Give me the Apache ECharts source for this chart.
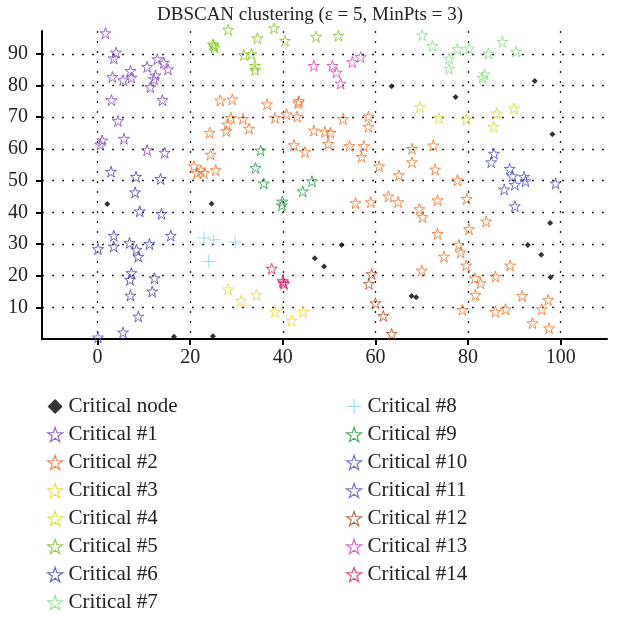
<!DOCTYPE html>
<html>
<head>
<meta charset="utf-8">
<script src="https://cdn.jsdelivr.net/npm/echarts@6/dist/echarts.min.js"></script>
<style>
  html, body { margin: 0; padding: 0; background: #fff; }
  #chart { width: 620px; height: 618px; }
</style>
</head>
<body>
<div id="chart"></div>
<script>
// point sets, [x, y]
const critNode = [[2.1,42.6],[16.5,0.7],[24.6,42.7],[24.9,0.9],[46.9,25.5],[48.9,22.9],[52.7,29.7],[63.5,79.8],[67.8,13.6],[68.8,13.2],[77.3,76.4],[94.4,81.4],[98.2,64.6],[97.7,36.6],[92.9,29.7],[95.8,26.6],[97.8,19.5]];
const c1 = [[1.7,96.5],[4.0,90.4],[3.5,88.6],[3.2,82.7],[5.5,81.7],[7.1,84.6],[7.3,82.5],[10.7,85.9],[12.9,88.3],[14.3,87.2],[15.2,85.1],[12.5,83.2],[12.2,82.0],[11.4,79.5],[3.0,75.4],[14.0,75.4],[4.4,68.8],[1.0,62.7],[0.6,61.4],[5.7,63.2],[10.7,59.6],[14.5,58.8]];
const c2 = [[26.5,75.3],[29.1,75.6],[36.6,74.1],[43.5,75.1],[43.3,74.4],[28.8,69.8],[31.4,69.5],[28.0,67.7],[27.8,65.6],[24.2,65.1],[32.7,66.4],[38.3,69.8],[40.8,70.9],[43.1,70.2],[46.7,65.8],[49.1,65.4],[50.3,65.1],[53.0,69.5],[58.5,70.2],[58.5,67.0],[42.4,61.2],[44.8,59.0],[49.8,61.6],[54.4,60.9],[57.5,60.9],[57.0,57.5],[60.8,54.5],[65.1,51.7],[24.4,58.2],[20.8,54.5],[21.5,52.4],[22.3,53.2],[23.0,52.4],[25.5,53.3],[55.7,42.9],[59.0,43.2],[62.8,45.0],[64.9,43.2],[67.9,60.0],[72.5,61.1],[67.9,55.8],[72.9,53.5],[77.7,50.1],[73.4,43.8],[79.7,44.2],[69.5,41.0],[70.2,38.5],[83.9,37.1],[73.4,33.2],[80.2,34.7],[78.0,29.7],[78.4,27.3],[74.8,26.0],[79.6,23.2],[70.0,21.6],[89.1,23.2],[81.5,19.2],[82.7,17.6],[85.9,19.7],[81.6,13.9],[91.7,13.6],[78.8,9.2],[85.9,8.6],[88.1,9.4],[95.9,9.4],[97.3,12.3],[93.9,5.0],[97.5,3.4]];
const c3 = [[28.2,15.7],[31.0,12.1],[34.3,13.9],[38.3,8.6],[41.9,5.8],[44.4,8.6]];
const c4 = [[69.6,73.3],[73.7,69.7],[79.6,69.3],[86.2,71.2],[89.9,72.8],[85.5,67.0]];
const c5 = [[28.2,97.6],[25.1,92.6],[25.3,92.0],[24.9,93.0],[38.1,98.1],[34.5,94.9],[40.5,94.1],[31.6,89.6],[33.2,89.9],[34.0,86.2],[34.0,84.9],[47.2,95.4],[52.0,95.7]];
const c6 = [[2.9,52.8],[8.3,51.2],[13.6,50.5],[8.1,46.3],[9.1,40.3],[13.8,39.5],[3.5,32.6],[3.5,29.2],[0.1,28.4],[6.9,30.3],[8.4,28.2],[8.8,26.0],[11.2,30.0],[15.8,32.6],[7.3,20.8],[7.0,18.7],[12.3,19.2],[7.1,13.7],[11.8,15.0]];
const c7 = [[70.1,95.9],[72.3,92.5],[77.7,91.5],[80.2,91.7],[75.9,88.5],[75.9,85.3],[84.4,90.1],[87.4,93.8],[90.4,90.7],[83.6,83.5],[83.1,82.5]];
const c8 = [[23.0,31.9],[25.1,31.3],[29.7,30.6],[24.0,24.5]];
const c9 = [[35.2,59.5],[34.1,54.0],[35.9,49.1],[44.3,46.6],[46.3,49.8],[39.9,43.4],[39.8,42.2]];
const c10 = [[85.6,58.5],[85.0,55.8],[89.0,53.7],[89.6,51.4],[92.1,51.2],[92.4,49.8],[90.1,48.7],[87.8,47.2],[98.9,49.1],[90.1,41.9]];
const c11 = [[8.8,7.1],[5.5,2.1],[0.1,0.5]];
const c12 = [[59.2,20.5],[58.6,17.4],[60.0,11.3],[61.7,7.3],[63.5,1.6]];
const c13 = [[46.7,86.2],[50.7,86.2],[51.6,84.1],[52.5,80.6],[55.0,87.4],[56.8,89.0]];
const c14 = [[37.6,22.2],[40.0,18.3],[40.3,17.4],[40.1,17.8]];

const xTicks = [0, 20, 40, 60, 80, 100];
const yTicks = [10, 20, 30, 40, 50, 60, 70, 80, 90];

const clusterNames = ['Critical #1','Critical #2','Critical #3','Critical #4','Critical #5','Critical #6','Critical #7','Critical #8','Critical #9','Critical #10','Critical #11','Critical #12','Critical #13','Critical #14'];
const clusterData = [c1, c2, c3, c4, c5, c6, c7, c8, c9, c10, c11, c12, c13, c14];
const clusterColors = ['#7d3fc0','#f26b1d','#f5d21a','#d2dc16','#7fc31c','#3f3fae','#7ddf7d','#7fd3e8','#1c9a3e','#4c4cc4','#6447c0','#b4441c','#d23fb4','#e0186c'];

const STAR = 'path://M50,2 L61,36 L97,36 L68,57 L79,92 L50,70 L21,92 L32,57 L3,36 L39,36 Z';
const PLUS = 'path://M50,0 L50,100 M0,50 L100,50';
const FONT = 'Liberation Serif';

const chart = echarts.init(document.getElementById('chart'));

const series = [{
    name: 'Critical node',
    type: 'scatter',
    data: critNode,
    symbol: 'diamond',
    symbolSize: 6,
    clip: false,
    itemStyle: { color: '#000' },
    z: 5
}];
clusterNames.forEach((name, i) => {
    const isPlus = name === 'Critical #8';
    series.push({
        name: name,
        type: 'scatter',
        data: clusterData[i],
        symbol: isPlus ? PLUS : STAR,
        symbolSize: isPlus ? 13 : 11,
        clip: false,
        itemStyle: {
            color: 'rgba(255,255,255,0)',
            borderColor: clusterColors[i],
            borderWidth: 1
        }
    });
});

const legendText = { fontFamily: FONT, fontSize: 21, color: '#222', lineHeight: 20, padding: [0, 0, 0, 1] };
const legendItem = (name, i) => {
    if (name === 'Critical node') {
        return { name: name, icon: 'diamond', itemStyle: { color: '#000', borderWidth: 0 } };
    }
    return {
        name: name,
        icon: name === 'Critical #8' ? PLUS : STAR,
        itemStyle: { color: 'rgba(255,255,255,0)', borderColor: clusterColors[i], borderWidth: 1.2 }
    };
};
const allNames = ['Critical node'].concat(clusterNames);

const options = {
    animation: false,
    title: {
        text: 'DBSCAN clustering (\u03B5 = 5, MinPts = 3)',
        left: 'center',
        top: 1,
        textStyle: { fontFamily: FONT, fontSize: 19, fontWeight: 'normal', color: '#222' }
    },
    legend: [{
        orient: 'vertical',
        left: 47,
        top: 396,
        height: 222,
        padding: 0,
        itemWidth: 15,
        itemHeight: 15,
        itemGap: 7,
        symbolKeepAspect: true,
        textStyle: legendText,
        data: allNames.slice(0, 8).map((n, k) => legendItem(n, k - 1))
    }, {
        orient: 'vertical',
        left: 346,
        top: 396,
        height: 222,
        padding: 0,
        itemWidth: 15,
        itemHeight: 15,
        itemGap: 7,
        symbolKeepAspect: true,
        textStyle: legendText,
        data: allNames.slice(8).map((n, k) => legendItem(n, k + 7))
    }],
    grid: { left: 42, right: 13, top: 31, bottom: 279 },
    xAxis: {
        type: 'value',
        min: -12,
        max: 110,
        axisLine: { show: true, onZero: false, lineStyle: { color: '#000', width: 2 } },
        axisTick: { show: true, customValues: xTicks, length: 6, lineStyle: { color: '#000', width: 2 } },
        axisLabel: { customValues: xTicks, margin: 9, fontFamily: FONT, fontSize: 20, color: '#222' },
        splitLine: { show: true, lineStyle: { color: '#222', width: 1.3, type: [2, 8] } }
    },
    yAxis: {
        type: 'value',
        min: 0,
        max: 97.2,
        axisLine: { show: true, onZero: false, lineStyle: { color: '#000', width: 2 } },
        axisTick: { show: true, customValues: yTicks, length: 6, lineStyle: { color: '#000', width: 2 } },
        axisLabel: { customValues: yTicks, margin: 14, fontFamily: FONT, fontSize: 20, color: '#222' },
        splitLine: { show: true, lineStyle: { color: '#222', width: 1.3, type: [2, 8] } }
    },
    series: series
};

chart.setOption(options);
</script>
</body>
</html>
